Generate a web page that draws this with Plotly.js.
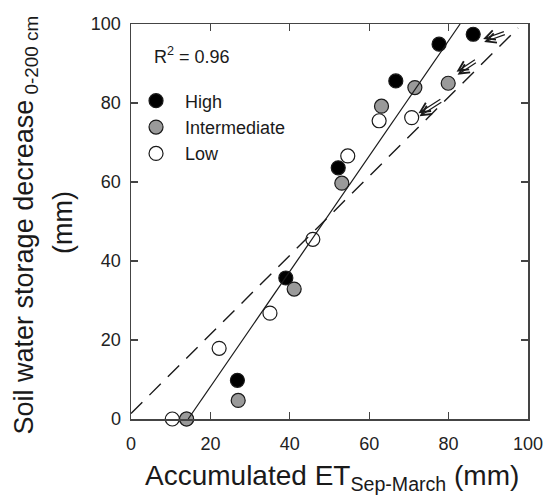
<!DOCTYPE html>
<html>
<head>
<meta charset="utf-8">
<script src="https://cdn.plot.ly/plotly-3.0.1.min.js"></script>
<style>html,body{margin:0;padding:0;background:#fff;}#chart{width:546px;height:497px;}</style>
</head>
<body>
<div id="chart"></div>
<script>
// ---- data ----
var highX = [14, 26.8, 39.0, 52.2, 66.7, 77.6, 86.2];
var highY = [0, 9.8, 35.7, 63.6, 85.6, 94.9, 97.4];
var interX = [14.0, 27.0, 41.1, 53.1, 63.1, 71.5, 79.9];
var interY = [0, 4.7, 32.9, 59.7, 79.2, 83.9, 85.0];
var lowX = [10.4, 22.2, 35.0, 45.8, 54.6, 62.5, 70.7];
var lowY = [0, 17.9, 26.8, 45.5, 66.6, 75.5, 76.3];
var fitX = [14.4, 82.9];
var fitY = [0, 100];
var refX = [0, 97.5];
var refY = [1.4, 99];
var arrowTailX = [94.3, 87.0, 78.3];
var arrowTailY = [98.2, 91.2, 81.2];
var arrowHeadX = [88.7, 82.0, 72.4];
var arrowHeadY = [96.2, 87.9, 77.4];
var tickVals = [0, 20, 40, 60, 80, 100];
var tickText = ['0', '20', '40', '60', '80', '100'];
var seriesNames = ['High', 'Intermediate', 'Low'];
var r2Text = 'R<sup>2</sup> = 0.96';

var FONT = 'Liberation Sans, Arial, sans-serif';
function pts(x, y, name, fill) {
  return {x: x, y: y, name: name, type: 'scatter', mode: 'markers', cliponaxis: false,
    marker: {size: 14, color: fill, line: {color: '#1a1a1a', width: 1.2}}};
}
var traces = [
  pts(highX, highY, seriesNames[0], '#000000'),
  pts(interX, interY, seriesNames[1], '#9a9a9a'),
  pts(lowX, lowY, seriesNames[2], '#ffffff'),
  {x: fitX, y: fitY, type: 'scatter', mode: 'lines', showlegend: false, hoverinfo: 'skip',
    line: {color: '#1a1a1a', width: 1.2}},
  {x: refX, y: refY, type: 'scatter', mode: 'lines', showlegend: false, hoverinfo: 'skip',
    line: {color: '#1a1a1a', width: 1.4, dash: '16px,10px'}}
];

var annotations = [];
var arrowOffsets = [[0, 0], [1, -3]];
for (var i = 0; i < arrowTailX.length; i++) {
  for (var k = 0; k < arrowOffsets.length; k++) {
    annotations.push({x: arrowHeadX[i], y: arrowHeadY[i], ax: arrowTailX[i], ay: arrowTailY[i],
      xref: 'x', yref: 'y', axref: 'x', ayref: 'y', text: '', showarrow: true,
      xshift: arrowOffsets[k][0], yshift: arrowOffsets[k][1],
      arrowhead: 5, arrowsize: 1.6, arrowwidth: 1.2, arrowcolor: '#1a1a1a'});
  }
}
annotations.push({x: 5.2, y: 92, xref: 'x', yref: 'y', xanchor: 'left', yanchor: 'middle',
  text: r2Text, showarrow: false, font: {family: FONT, size: 18, color: '#1a1a1a'}});
annotations.push({x: 0.5, y: 0, xref: 'paper', yref: 'paper', xanchor: 'center', yanchor: 'top',
  xshift: 2, yshift: -39, showarrow: false,
  text: 'Accumulated ET<sub>Sep-March</sub> (mm)', font: {family: FONT, size: 28, color: '#1a1a1a'}});
annotations.push({x: 0, y: 0.49, xref: 'paper', yref: 'paper', xanchor: 'center', yanchor: 'middle',
  xshift: -105, textangle: -90, showarrow: false,
  text: 'Soil water storage decrease<sub> 0-200 cm</sub>', font: {family: FONT, size: 27, color: '#1a1a1a'}});
annotations.push({x: 0, y: 0.496, xref: 'paper', yref: 'paper', xanchor: 'center', yanchor: 'middle',
  xshift: -68, textangle: -90, showarrow: false,
  text: '(mm)', font: {family: FONT, size: 27, color: '#1a1a1a'}});

function axis(standoff) {
  return {
    range: [0, 100], tickmode: 'array', tickvals: tickVals, ticktext: tickText,
    ticks: 'inside', ticklen: 7, tickwidth: 1.3, tickcolor: '#444',
    showline: true, linecolor: '#444', linewidth: 1.5, mirror: 'ticks',
    showgrid: false, zeroline: false, ticklabelstandoff: standoff,
    tickfont: {family: FONT, size: 18, color: '#222'}
  };
}
var layout = {
  width: 546, height: 497,
  margin: {l: 131, r: 18, t: 24, b: 78},
  paper_bgcolor: '#ffffff', plot_bgcolor: '#ffffff',
  xaxis: axis(8),
  yaxis: axis(5),
  showlegend: true,
  legend: {x: -0.01, y: 0.852, xanchor: 'left', yanchor: 'top', bgcolor: 'rgba(0,0,0,0)',
    itemwidth: 48, font: {family: FONT, size: 18, color: '#1a1a1a'}, tracegroupgap: 0},
  annotations: annotations,
  font: {family: FONT}
};
Plotly.newPlot('chart', traces, layout, {displayModeBar: false, staticPlot: true});
</script>
</body>
</html>
